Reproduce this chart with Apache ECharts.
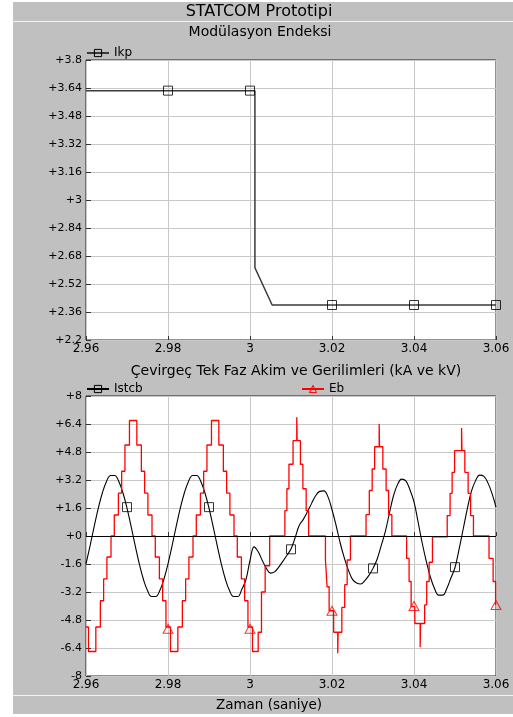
<!DOCTYPE html>
<html><head><meta charset="utf-8">
<script src="https://cdn.jsdelivr.net/npm/echarts@6/dist/echarts.min.js"></script>
<style>html,body{margin:0;padding:0;background:#fff}#c{width:513px;height:717px}</style>
</head><body><div id="c"></div>
<script>
const FONT = 'DejaVu Sans';

// Top chart: Ikp (modulation index)
const ikpT = [2.96, 3.0012, 3.0012, 3.0054, 3.06];
const ikpV = [3.625, 3.625, 2.613, 2.40, 2.40];
const ikpMarkT = [2.98, 3.00, 3.02, 3.04, 3.06];
const ikpMarkV = [3.625, 3.625, 2.40, 2.40, 2.40];

// Bottom chart: Istcb current, sampled every 1 ms from 2.96 s
const istT0 = 2.96, istDt = 0.001;
const istV = [
 -1.59,-0.55,0.55,1.59,2.47,3.12,3.46,3.46,3.12,2.47,
  1.59,0.55,-0.55,-1.59,-2.47,-3.12,-3.46,-3.46,-3.12,-2.47,
 -1.59,-0.55,0.55,1.59,2.47,3.12,3.46,3.46,3.12,2.47,
  1.59,0.55,-0.55,-1.59,-2.47,-3.12,-3.46,-3.46,-3.05,-2.5,
 -1.4,-0.62,-0.9,-1.4,-1.85,-2.12,-2.05,-1.78,-1.45,-1.1,
 -0.74,-0.1,0.6,0.95,1.38,1.85,2.3,2.55,2.58,2.25,
  1.5,0.6,-0.4,-1.25,-1.95,-2.48,-2.68,-2.74,-2.55,-2.25,
 -1.85,-1.33,-0.55,0.25,1.3,2.3,2.95,3.25,3.15,2.65,
  1.95,0.8,-0.4,-1.45,-2.35,-3.0,-3.38,-3.38,-3.0,-2.4,
 -1.8,-0.75,0.4,1.55,2.55,3.15,3.48,3.42,3.05,2.45,
  1.65
];
const istMarkT = [2.97, 2.99, 3.01, 3.03, 3.05];
const istMarkV = [1.65, 1.65, -0.76, -1.85, -1.78];

// Eb voltage: staircase, each level holds from its start time
const ebT = [
 2.96,2.9606,2.9624,2.9635,2.9643,2.9651,2.9661,2.9669,2.9679,2.9687,2.9695,2.9706,
 2.9724,2.9735,2.9743,2.9751,2.9761,2.9769,2.9779,2.9787,2.9795,2.9806,
 2.9824,2.9835,2.9843,2.9851,2.9861,2.9869,2.9879,2.9887,2.9895,2.9906,
 2.9924,2.9935,2.9943,2.9951,2.9961,2.9969,2.9979,2.9987,2.9995,3.0006,
 3.0020,3.0028,3.0037,3.0048,
 3.0085,3.0090,3.0095,3.0105,3.0114,3.0115,3.0123,3.0129,3.0137,3.0143,
 3.0184,3.0188,3.0193,3.0204,3.0214,3.0215,3.0224,3.0231,3.0237,3.0245,
 3.0283,3.0291,3.0298,3.0304,3.0315,3.0316,3.0324,3.0332,3.0338,3.0346,
 3.0382,3.0388,3.0393,3.0402,3.0415,3.0416,3.0426,3.0431,3.0437,3.0445,
 3.0481,3.0488,3.0493,3.0499,3.0516,3.0517,3.0524,3.0532,3.0538,3.0545,
 3.0583,3.0593,3.0599,3.06
];
const ebV = [
 -5.2,-6.6,-5.2,-3.7,-2.45,-1.2,0,1.2,2.45,3.7,5.2,6.6,
 5.2,3.7,2.45,1.2,0,-1.2,-2.45,-3.7,-5.2,-6.6,
 -5.2,-3.7,-2.45,-1.2,0,1.2,2.45,3.7,5.2,6.6,
 5.2,3.7,2.45,1.2,0,-1.2,-2.45,-3.7,-5.2,-6.6,
 -5.5,-3.2,-1.7,0,
 1.45,2.7,4.1,5.45,6.78,5.45,4.1,2.7,1.45,0,
 -1.37,-2.9,-4.27,-5.5,-6.7,-5.5,-4.08,-2.78,-1.37,0,
 1.22,2.6,3.83,5.1,6.4,5.1,3.83,2.6,1.22,0,
 -1.28,-2.6,-4.04,-5.0,-6.36,-5.0,-3.94,-2.6,-1.5,-0.05,
 1.17,2.44,3.64,4.88,6.17,4.88,3.64,2.44,1.17,0,
 -1.28,-2.6,-3.94,-3.94
];
const ebMarkT = [2.98, 3.00, 3.02, 3.04, 3.06];
const ebMarkV = [-5.3, -5.3, -4.27, -4.0, -3.94];

const zip = (a, b) => a.map((x, i) => [x, b[i]]);
const fmt = v => String(Math.round(v * 100) / 100);
const fmtSigned = v => { const r = Math.round(v * 100) / 100; return (r >= 0 ? '+' : '') + String(r); };

const istData = istV.map((v, i) => [+(istT0 + i * istDt).toFixed(4), v]);

function xAxisCfg(gi) {
  return {
    gridIndex: gi, type: 'value', min: 2.96, max: 3.06, interval: 0.02,
    axisLine: { show: false },
    axisTick: { show: true, inside: true, length: 4, lineStyle: { color: '#333' } },
    splitLine: { show: true, lineStyle: { color: '#c8c8c8', width: 1 } },
    axisLabel: { formatter: fmt, color: '#000', fontSize: 12, fontFamily: FONT, margin: 3 }
  };
}
function yAxisCfg(gi, min, max, interval) {
  return {
    gridIndex: gi, type: 'value', min: min, max: max, interval: interval,
    axisLine: { show: false },
    axisTick: { show: true, inside: true, length: 5, lineStyle: { color: '#333' } },
    splitLine: { show: true, lineStyle: { color: '#c8c8c8', width: 1 } },
    axisLabel: { formatter: fmtSigned, color: '#000', fontSize: 11, fontFamily: FONT, margin: 4 }
  };
}
const legendBase = {
  orient: 'horizontal', padding: 0, itemWidth: 22, itemHeight: 9, itemGap: 10,
  selectedMode: false,
  textStyle: { fontSize: 12, fontFamily: FONT, color: '#000' }
};
const txt = (text, x, y, size) => ({
  type: 'text', z: 5,
  style: { text: text, x: x, y: y, fill: '#000', font: size + 'px "' + FONT + '"',
           textAlign: 'center', align: 'center', textVerticalAlign: 'middle', verticalAlign: 'middle' }
});

const chart = echarts.init(document.getElementById('c'), null, { renderer: 'canvas' });
chart.setOption({
  animation: false,
  backgroundColor: '#ffffff',
  graphic: [
    { type: 'rect', z: -10, shape: { x: 13, y: 2, width: 500, height: 712 }, style: { fill: '#c0c0c0' } },
    { type: 'line', z: -9, shape: { x1: 13, y1: 21.5, x2: 513, y2: 21.5 }, style: { stroke: '#f2f2f2', lineWidth: 1 } },
    { type: 'line', z: -9, shape: { x1: 13, y1: 695.5, x2: 513, y2: 695.5 }, style: { stroke: '#f2f2f2', lineWidth: 1 } },
    txt('STATCOM Prototipi', 259, 12, 16),
    txt('Modülasyon Endeksi', 260, 32, 14),
    txt('Çevirgeç Tek Faz Akim ve Gerilimleri (kA ve kV)', 296, 371, 14),
    txt('Zaman (saniye)', 269, 705, 13.5)
  ],
  grid: [
    { left: 86, top: 60, width: 410, height: 280, show: true, backgroundColor: '#fff', borderColor: '#222', borderWidth: 1 },
    { left: 86, top: 396, width: 410, height: 280, show: true, backgroundColor: '#fff', borderColor: '#222', borderWidth: 1 }
  ],
  xAxis: [xAxisCfg(0), xAxisCfg(1)],
  yAxis: [yAxisCfg(0, 2.2, 3.8, 0.16), yAxisCfg(1, -8, 8, 1.6)],
  legend: [
    Object.assign({}, legendBase, { data: ['Ikp'], left: 86, top: 47,
      itemStyle: { color: 'rgba(0,0,0,0)', borderColor: '#000', borderWidth: 1 } }),
    Object.assign({}, legendBase, { data: ['Istcb'], left: 86, top: 383,
      itemStyle: { color: 'rgba(0,0,0,0)', borderColor: '#000', borderWidth: 1 } }),
    Object.assign({}, legendBase, { data: ['Eb'], left: 301, top: 383,
      itemStyle: { color: 'rgba(0,0,0,0)', borderColor: '#ff0000', borderWidth: 1 } })
  ],
  series: [
    {
      name: 'Ikp', type: 'line', xAxisIndex: 0, yAxisIndex: 0, data: zip(ikpT, ikpV),
      showSymbol: false, symbol: 'rect', symbolSize: 9, z: 3,
      lineStyle: { color: '#3a3a3a', width: 1.5 },
      itemStyle: { color: 'transparent', borderColor: '#000', borderWidth: 1 }
    },
    {
      name: 'Ikp-m', type: 'scatter', xAxisIndex: 0, yAxisIndex: 0, data: zip(ikpMarkT, ikpMarkV),
      symbol: 'rect', symbolSize: 9, silent: true, z: 4,
      itemStyle: { color: 'transparent', borderColor: '#000', borderWidth: 1 }
    },
    {
      name: 'Istcb', type: 'line', xAxisIndex: 1, yAxisIndex: 1, data: istData,
      smooth: 0.4, showSymbol: false, symbol: 'rect', symbolSize: 9, z: 2,
      lineStyle: { color: '#000', width: 1.1 },
      itemStyle: { color: 'transparent', borderColor: '#000', borderWidth: 1 },
      markLine: {
        silent: true, symbol: 'none', label: { show: false },
        lineStyle: { color: '#000', width: 1, type: 'solid' },
        data: [{ yAxis: 0 }]
      }
    },
    {
      name: 'Istcb-m', type: 'scatter', xAxisIndex: 1, yAxisIndex: 1, data: zip(istMarkT, istMarkV),
      symbol: 'rect', symbolSize: 9, silent: true, z: 4,
      itemStyle: { color: 'transparent', borderColor: '#000', borderWidth: 1 }
    },
    {
      name: 'Eb', type: 'line', xAxisIndex: 1, yAxisIndex: 1, data: zip(ebT, ebV),
      step: 'end', showSymbol: false, symbol: 'triangle', symbolSize: [10, 9], z: 3,
      lineStyle: { color: '#ff0000', width: 1.3 },
      itemStyle: { color: 'transparent', borderColor: '#ff0000', borderWidth: 1 }
    },
    {
      name: 'Eb-m', type: 'scatter', xAxisIndex: 1, yAxisIndex: 1, data: zip(ebMarkT, ebMarkV),
      symbol: 'triangle', symbolSize: [10, 9], silent: true, z: 4,
      itemStyle: { color: 'transparent', borderColor: '#ff0000', borderWidth: 1 }
    }
  ]
});
</script></body></html>
